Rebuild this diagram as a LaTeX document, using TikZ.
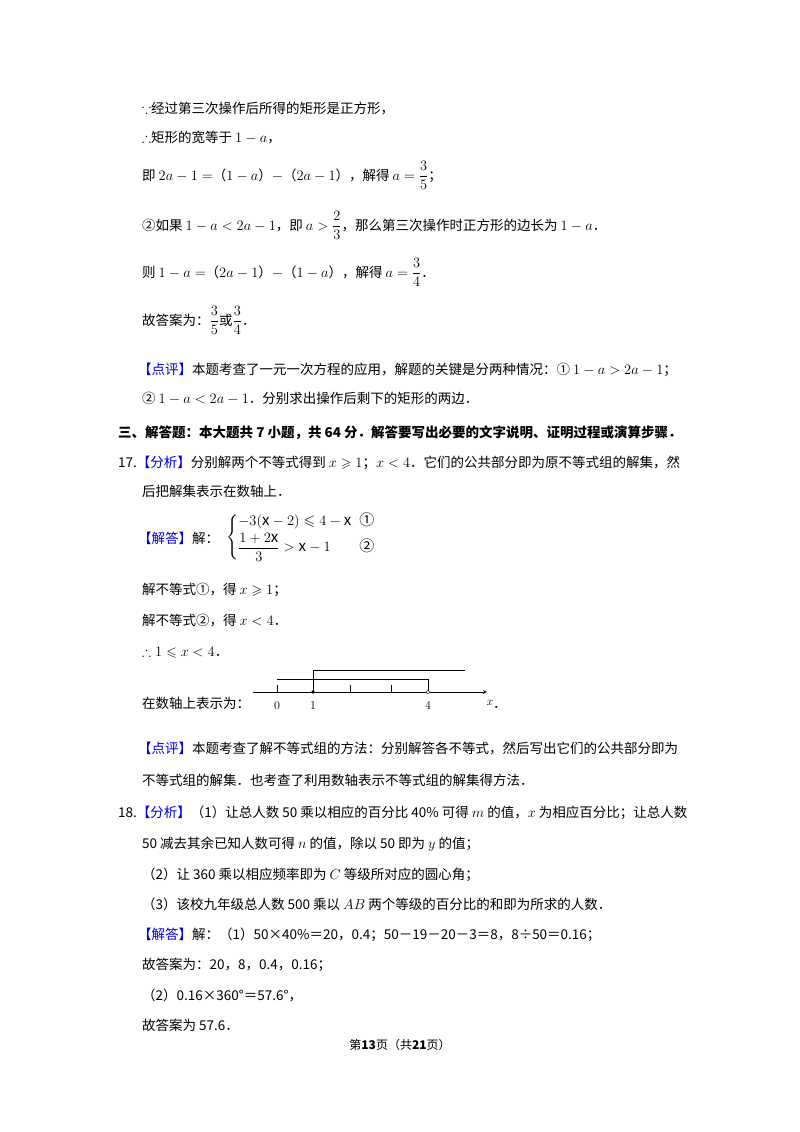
\documentclass[tikz,border=0pt]{standalone}
\usepackage{amsmath,amssymb}
\usepackage{fontspec}
\setmainfont{Noto Sans CJK SC}
\begin{document}
\begin{tikzpicture}[x=1pt,y=-1pt,
  t/.style={anchor=base west,inner sep=0pt,font=\fontsize{13.5}{14}\selectfont},
  bl/.style={text=blue!85!black}]
\useasboundingbox (0,0) rectangle (800,1132);
\def\L{142}
\node[t] (l1) at (\L,113) {$\because$经过第三次操作后所得的矩形是正方形，};
\node[t] (l2) at (\L,142) {$\therefore$矩形的宽等于 $1-a$，};
\node[t] (l3) at (\L,180) {即 $2a-1=$（$1-a$）$-$（$2a-1$），解得 $a=\dfrac{3}{5}$；};
\node[t] (l4) at (\L,230) {②如果 $1-a<2a-1$，即 $a>\dfrac{2}{3}$，那么第三次操作时正方形的边长为 $1-a$．};
\node[t] (l5) at (\L,277) {则 $1-a=$（$2a-1$）$-$（$1-a$），解得 $a=\dfrac{3}{4}$．};
\node[t] (l6) at (\L,325) {故答案为：$\dfrac{3}{5}$或$\dfrac{3}{4}$．};
\node[t] (l7) at (138,374) {\textcolor{blue!85!black}{【点评】}本题考查了一元一次方程的应用，解题的关键是分两种情况：① $1-a>2a-1$；};
\node[t] (l8) at (\L,403) {② $1-a<2a-1$．分别求出操作后剩下的矩形的两边．};
\node[t,font=\fontsize{13.5}{14}\selectfont\bfseries] (l9) at (118,437) {三、解答题：本大题共 7 小题，共 64 分．解答要写出必要的文字说明、证明过程或演算步骤．};
\node[t] (l10) at (118,467) {17.\textcolor{blue!85!black}{【分析】}分别解两个不等式得到 $x\geqslant1$；$x<4$．它们的公共部分即为原不等式组的解集，然};
\node[t] (l11) at (\L,496) {后把解集表示在数轴上．};
\node[t] (l12) at (138,543) {\textcolor{blue!85!black}{【解答】}解：};
\node[anchor=west,inner sep=0pt,font=\fontsize{15}{16}\selectfont] (sys) at (226,537) {$\left\{\begin{array}{@{}l@{\;\;}l}
  -3(\mathrm{x}-2)\leqslant 4-\mathrm{x} & \text{①}\\[3pt]
  \dfrac{1+2\mathrm{x}}{3}>\mathrm{x}-1 & \text{②}
  \end{array}\right.$};
\node[t] (l13) at (\L,594) {解不等式①，得 $x\geqslant1$；};
\node[t] (l14) at (\L,625) {解不等式②，得 $x<4$．};
\node[t] (l15) at (\L,656) {$\therefore 1\leqslant x<4$．};
\node[t] (l16) at (\L,708) {在数轴上表示为：};
% number line
\coordinate (a0) at (253,692); \coordinate (a1) at (487,692);
\draw[-stealth,thick] (a0) -- (a1);
\foreach \p/\lab in {277/0,313/1,350/,391/,428/4}{\draw (\p,692) -- (\p,685);
  \node[font=\fontsize{12}{12}\selectfont,inner sep=0pt] at (\p,706) {$\lab$};}
\node[font=\fontsize{12}{12}\selectfont,inner sep=0pt] (xl) at (490,703) {$x$};
\node[t] at (493,708) {．};
\draw (313,692) -- (313,670) -- (465,670);
\draw (277,679) -- (428,679) -- (428,692);
\fill (313,692) circle (1.8);
\draw[fill=white] (428,692) circle (1.8);
\node[t] (l17) at (138,753) {\textcolor{blue!85!black}{【点评】}本题考查了解不等式组的方法：分别解答各不等式，然后写出它们的公共部分即为};
\node[t] (l18) at (\L,785) {不等式组的解集．也考查了利用数轴表示不等式组的解集得方法．};
\node[t] (l19) at (118,817) {18.\textcolor{blue!85!black}{【分析】}（1）让总人数 50 乘以相应的百分比 40\% 可得 $m$ 的值，$x$ 为相应百分比；让总人数};
\node[t] (l20) at (\L,848) {50 减去其余已知人数可得 $n$ 的值，除以 50 即为 $y$ 的值；};
\node[t] (l21) at (\L,879) {（2）让 360 乘以相应频率即为 $C$ 等级所对应的圆心角；};
\node[t] (l22) at (\L,909) {（3）该校九年级总人数 500 乘以 $AB$ 两个等级的百分比的和即为所求的人数．};
\node[t] (l23) at (138,939) {\textcolor{blue!85!black}{【解答】}解：（1）50×40\%＝20，0.4；50－19－20－3＝8，8÷50＝0.16；};
\node[t] (l24) at (\L,969) {故答案为：20，8，0.4，0.16；};
\node[t] (l25) at (\L,1000) {（2）0.16×360°＝57.6°，};
\node[t] (l26) at (\L,1030) {故答案为 57.6．};
\node[anchor=base,inner sep=0pt,font=\fontsize{12}{12}\selectfont] (ft) at (400,1049) {第\textbf{13}页（共\textbf{21}页）};
\end{tikzpicture}
\end{document}
